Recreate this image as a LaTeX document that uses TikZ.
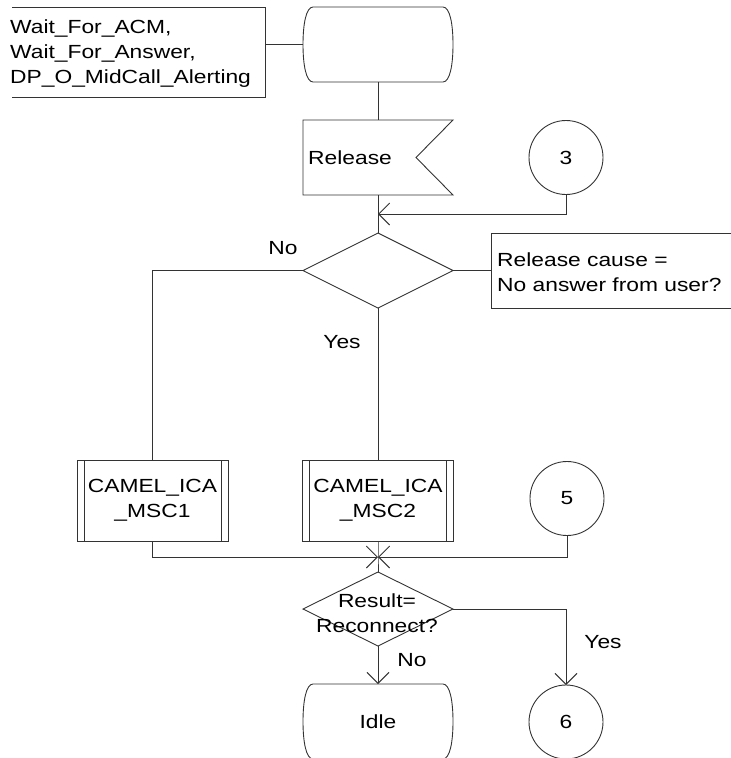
\documentclass[tikz,border=0pt]{standalone}
\usepackage{fontspec}
\setmainfont{Liberation Sans}[FakeStretch=1.2]
\usetikzlibrary{arrows.meta,calc,shapes.geometric}
\newcommand\sdlstate[1]{%
  \draw[line] ($(#1.north west)+(10,0)$) -- ($(#1.north east)+(-10,0)$)
    .. controls ($(#1.north east)+(-3,0)$) and ($(#1.east)+(0,-20)$) .. (#1.east)
    .. controls ($(#1.east)+(0,20)$) and ($(#1.south east)+(-3,0)$) .. ($(#1.south east)+(-10,0)$)
    -- ($(#1.south west)+(10,0)$)
    .. controls ($(#1.south west)+(3,0)$) and ($(#1.west)+(0,20)$) .. (#1.west)
    .. controls ($(#1.west)+(0,-20)$) and ($(#1.north west)+(3,0)$) .. cycle;}
\newcommand\procbars[1]{%
  \draw[line] ($(#1.north west)+(7,0)$) -- ($(#1.south west)+(7,0)$);
  \draw[line] ($(#1.north east)+(-7,0)$) -- ($(#1.south east)+(-7,0)$);}
\begin{document}
\begin{tikzpicture}[x=1pt,y=-1pt,
  line/.style={draw=black!80, line width=0.9pt},
  arr/.style={line, -{Straight Barb[length=11pt,width=22pt]}},
  txtfont/.style={font=\fontsize{19}{25}\selectfont},
  lbl/.style={txtfont, inner sep=0pt},
  blank/.style={draw=none, inner sep=0pt, outer sep=0pt, minimum width=150pt, minimum height=75pt},
  conn/.style={circle, line, txtfont, inner sep=0pt, outer sep=0pt, minimum size=74pt},
  dec/.style={diamond, line, inner sep=0pt, outer sep=0pt, minimum width=150pt, minimum height=75pt},
  proc/.style={rectangle, line, txtfont, align=center, inner sep=0pt, outer sep=0pt, minimum width=151pt, minimum height=81pt}
]
\useasboundingbox (0,0) rectangle (731,758);
\clip (0,0) rectangle (731,758);

% text box top left
\node[blank, minimum width=253pt, minimum height=90pt] (txt) at (138.5,52) {};
\draw[line] (txt.north west) -- (txt.north east) -- (txt.south east) -- (txt.south west);
\node[lbl, align=left, anchor=west] (txtl) at (10,54) {Wait\_For\_ACM,\\Wait\_For\_Answer,\\DP\_O\_MidCall\_Alerting};

% start state
\node[blank] (start) at (378,44.5) {};
\sdlstate{start}
\draw[line] (start.west) -- (start.west -| txt.east);

% Release input
\node[blank] (rel) at (378,157.5) {};
\draw[line] (rel.north west) -- (rel.north east) -- ($(rel.east)+(-37,0)$) -- (rel.south east) -- (rel.south west) -- cycle;
\node[lbl, anchor=west] (rell) at (308,158) {Release};
\draw[line] (start.south) -- (rel.north);

% connector 3
\node[conn] (c3) at (566,157.5) {3};
\coordinate (m1) at (378,214);
\draw[arr] (c3.south) |- (m1);

% decision 1
\node[dec] (d1) at (378,270.5) {};
\draw[line] (rel.south) -- (d1.north);
\node[blank, minimum width=250pt, minimum height=75pt, anchor=north west] (rbox) at (491,233) {};
\draw[line] (rbox.north east) -- (rbox.north west) -- (rbox.south west) -- (rbox.south east);
\node[lbl, align=left, anchor=west] (rboxl) at (497,272) {Release cause =\\No answer from user?};
\draw[line] (d1.east) -- (d1.east -| rbox.west);

% procedures
\node[proc] (cam1) at (152.5,500.5) {CAMEL\_ICA\\\_MSC1};
\procbars{cam1}
\node[proc] (cam2) at (378,500.5) {CAMEL\_ICA\\\_MSC2};
\procbars{cam2}
\draw[line] (d1.west) -| (cam1.north);
\node[lbl] (no1) at (283,248) {No};
\draw[line] (d1.south) -- (cam2.north);
\node[lbl] (yes1) at (342,342) {Yes};

% connector 5 and merge
\node[conn] (c5) at (567,498.5) {5};
\coordinate (m2) at (378,557);
\draw[arr] (cam1.south) |- (m2);
\draw[arr] (c5.south) |- (m2);

% decision 2
\node[dec, minimum height=74pt] (d2) at (378,609) {};
\node[lbl, align=center] (d2l) at (377,613) {Result=\\Reconnect?};
\draw[line] (cam2.south) -- (m2) -- (d2.north);

% Idle
\node[blank] (idle) at (378,721.5) {};
\sdlstate{idle}
\node[lbl] (idlel) at (378,722) {Idle};
\draw[arr] (d2.south) -- (idle.north);
\node[lbl] (no2) at (412,660) {No};

% connector 6
\node[conn] (c6) at (566,722) {6};
\draw[arr] (d2.east) -| (c6.north);
\node[lbl] (yes2) at (603,642) {Yes};
\end{tikzpicture}
\end{document}
